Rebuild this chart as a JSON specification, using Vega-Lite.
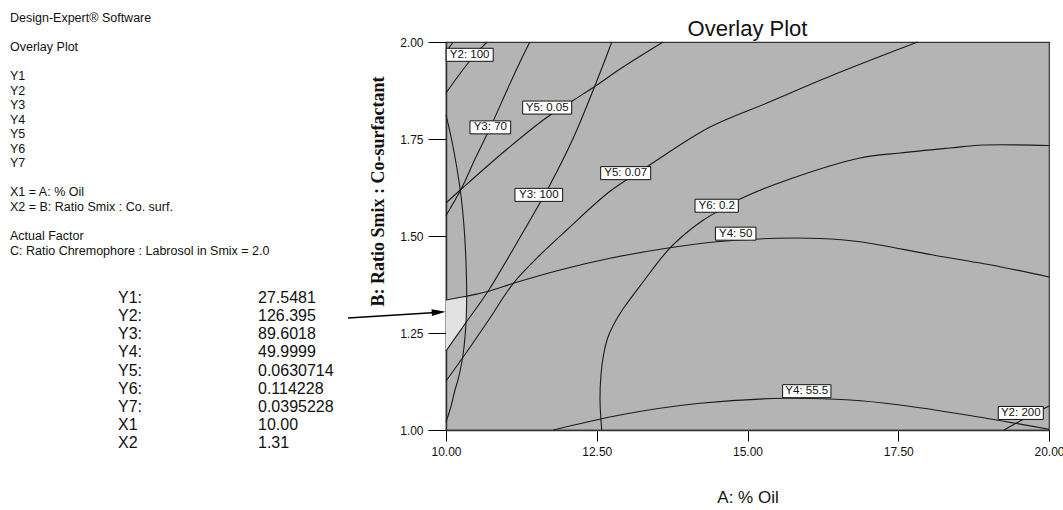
{
  "$schema": "https://vega.github.io/schema/vega-lite/v6.json",
  "width": 603,
  "height": 388,
  "autosize": {"type": "none"},
  "padding": {"left": 446, "top": 42, "right": 14, "bottom": 80},
  "background": "white",
  "title": {"text": "Overlay Plot", "font": "Liberation Sans", "fontSize": 22, "fontWeight": "normal", "color": "#111", "baseline": "alphabetic", "offset": 0, "dy": 46, "anchor": "middle", "frame": "group"},
  "config": {
    "view": {"fill": "#b4b4b4", "stroke": "#333", "strokeWidth": 1.2}
  },
  "datasets": {
    "contours": [
      {"curve": "Y2: 100", "i": 0, "oil": 10, "ratio": 1.8686},
      {"curve": "Y2: 100", "i": 1, "oil": 10.2156, "ratio": 1.9149},
      {"curve": "Y2: 100", "i": 2, "oil": 10.4478, "ratio": 1.9613},
      {"curve": "Y2: 100", "i": 3, "oil": 10.68, "ratio": 2.0},
      {"curve": "Y7", "i": 0, "oil": 10, "ratio": 1.975},
      {"curve": "Y7", "i": 1, "oil": 10.12, "ratio": 2.0},
      {"curve": "Y1", "i": 0, "oil": 10, "ratio": 1.8126},
      {"curve": "Y1", "i": 1, "oil": 10.121, "ratio": 1.7268},
      {"curve": "Y1", "i": 2, "oil": 10.232, "ratio": 1.6237},
      {"curve": "Y1", "i": 3, "oil": 10.287, "ratio": 1.5464},
      {"curve": "Y1", "i": 4, "oil": 10.323, "ratio": 1.4639},
      {"curve": "Y1", "i": 5, "oil": 10.34, "ratio": 1.3866},
      {"curve": "Y1", "i": 6, "oil": 10.343, "ratio": 1.3428},
      {"curve": "Y1", "i": 7, "oil": 10.332, "ratio": 1.2758},
      {"curve": "Y1", "i": 8, "oil": 10.299, "ratio": 1.2139},
      {"curve": "Y1", "i": 9, "oil": 10.26, "ratio": 1.1727},
      {"curve": "Y1", "i": 10, "oil": 10.199, "ratio": 1.1289},
      {"curve": "Y1", "i": 11, "oil": 10.149, "ratio": 1.1031},
      {"curve": "Y1", "i": 12, "oil": 10.075, "ratio": 1.0567},
      {"curve": "Y1", "i": 13, "oil": 10, "ratio": 1.0206},
      {"curve": "Y3: 70", "i": 0, "oil": 10, "ratio": 1.5528},
      {"curve": "Y3: 70", "i": 1, "oil": 10.26, "ratio": 1.6237},
      {"curve": "Y3: 70", "i": 2, "oil": 10.481, "ratio": 1.6985},
      {"curve": "Y3: 70", "i": 3, "oil": 10.73, "ratio": 1.7784},
      {"curve": "Y3: 70", "i": 4, "oil": 11.028, "ratio": 1.8814},
      {"curve": "Y3: 70", "i": 5, "oil": 11.227, "ratio": 1.9485},
      {"curve": "Y3: 70", "i": 6, "oil": 11.39, "ratio": 2.0},
      {"curve": "Y5: 0.05", "i": 0, "oil": 10, "ratio": 1.5851},
      {"curve": "Y5: 0.05", "i": 1, "oil": 10.265, "ratio": 1.6224},
      {"curve": "Y5: 0.05", "i": 2, "oil": 10.995, "ratio": 1.7216},
      {"curve": "Y5: 0.05", "i": 3, "oil": 11.658, "ratio": 1.8041},
      {"curve": "Y5: 0.05", "i": 4, "oil": 12.106, "ratio": 1.8492},
      {"curve": "Y5: 0.05", "i": 5, "oil": 12.504, "ratio": 1.8892},
      {"curve": "Y5: 0.05", "i": 6, "oil": 12.886, "ratio": 1.9304},
      {"curve": "Y5: 0.05", "i": 7, "oil": 13.6, "ratio": 2.0},
      {"curve": "Y3: 100", "i": 0, "oil": 10, "ratio": 1.2036},
      {"curve": "Y3: 100", "i": 1, "oil": 10.343, "ratio": 1.2796},
      {"curve": "Y3: 100", "i": 2, "oil": 10.675, "ratio": 1.3523},
      {"curve": "Y3: 100", "i": 3, "oil": 11.26, "ratio": 1.5052},
      {"curve": "Y3: 100", "i": 4, "oil": 11.725, "ratio": 1.6322},
      {"curve": "Y3: 100", "i": 5, "oil": 12.111, "ratio": 1.7526},
      {"curve": "Y3: 100", "i": 6, "oil": 12.499, "ratio": 1.8987},
      {"curve": "Y3: 100", "i": 7, "oil": 12.75, "ratio": 2.0},
      {"curve": "Y5: 0.07", "i": 0, "oil": 10, "ratio": 1.1263},
      {"curve": "Y5: 0.07", "i": 1, "oil": 10.332, "ratio": 1.1985},
      {"curve": "Y5: 0.07", "i": 2, "oil": 10.73, "ratio": 1.2887},
      {"curve": "Y5: 0.07", "i": 3, "oil": 11.116, "ratio": 1.3781},
      {"curve": "Y5: 0.07", "i": 4, "oil": 11.559, "ratio": 1.451},
      {"curve": "Y5: 0.07", "i": 5, "oil": 12.002, "ratio": 1.5155},
      {"curve": "Y5: 0.07", "i": 6, "oil": 12.72, "ratio": 1.6152},
      {"curve": "Y5: 0.07", "i": 7, "oil": 13.383, "ratio": 1.6838},
      {"curve": "Y5: 0.07", "i": 8, "oil": 14.378, "ratio": 1.7809},
      {"curve": "Y5: 0.07", "i": 9, "oil": 15.323, "ratio": 1.8428},
      {"curve": "Y5: 0.07", "i": 10, "oil": 16.418, "ratio": 1.9149},
      {"curve": "Y5: 0.07", "i": 11, "oil": 17.82, "ratio": 2.0},
      {"curve": "Y6: 0.2", "i": 0, "oil": 12.582, "ratio": 1.0},
      {"curve": "Y6: 0.2", "i": 1, "oil": 12.554, "ratio": 1.0773},
      {"curve": "Y6: 0.2", "i": 2, "oil": 12.57, "ratio": 1.1418},
      {"curve": "Y6: 0.2", "i": 3, "oil": 12.612, "ratio": 1.1933},
      {"curve": "Y6: 0.2", "i": 4, "oil": 12.687, "ratio": 1.2397},
      {"curve": "Y6: 0.2", "i": 5, "oil": 12.803, "ratio": 1.2784},
      {"curve": "Y6: 0.2", "i": 6, "oil": 12.935, "ratio": 1.3119},
      {"curve": "Y6: 0.2", "i": 7, "oil": 13.267, "ratio": 1.3814},
      {"curve": "Y6: 0.2", "i": 8, "oil": 13.682, "ratio": 1.4639},
      {"curve": "Y6: 0.2", "i": 9, "oil": 13.964, "ratio": 1.5052},
      {"curve": "Y6: 0.2", "i": 10, "oil": 14.245, "ratio": 1.5387},
      {"curve": "Y6: 0.2", "i": 11, "oil": 14.544, "ratio": 1.567},
      {"curve": "Y6: 0.2", "i": 12, "oil": 14.876, "ratio": 1.5954},
      {"curve": "Y6: 0.2", "i": 13, "oil": 15.705, "ratio": 1.6469},
      {"curve": "Y6: 0.2", "i": 14, "oil": 16.866, "ratio": 1.701},
      {"curve": "Y6: 0.2", "i": 15, "oil": 17.529, "ratio": 1.7139},
      {"curve": "Y6: 0.2", "i": 16, "oil": 18.358, "ratio": 1.7268},
      {"curve": "Y6: 0.2", "i": 17, "oil": 18.905, "ratio": 1.7345},
      {"curve": "Y6: 0.2", "i": 18, "oil": 20.0, "ratio": 1.7332},
      {"curve": "Y4: 50", "i": 0, "oil": 10, "ratio": 1.3351},
      {"curve": "Y4: 50", "i": 1, "oil": 10.675, "ratio": 1.3564},
      {"curve": "Y4: 50", "i": 2, "oil": 11.116, "ratio": 1.3781},
      {"curve": "Y4: 50", "i": 3, "oil": 11.891, "ratio": 1.4124},
      {"curve": "Y4: 50", "i": 4, "oil": 12.72, "ratio": 1.4425},
      {"curve": "Y4: 50", "i": 5, "oil": 13.682, "ratio": 1.4691},
      {"curve": "Y4: 50", "i": 6, "oil": 14.489, "ratio": 1.4853},
      {"curve": "Y4: 50", "i": 7, "oil": 15.484, "ratio": 1.4941},
      {"curve": "Y4: 50", "i": 8, "oil": 16.2, "ratio": 1.4936},
      {"curve": "Y4: 50", "i": 9, "oil": 16.866, "ratio": 1.4853},
      {"curve": "Y4: 50", "i": 10, "oil": 18.076, "ratio": 1.451},
      {"curve": "Y4: 50", "i": 11, "oil": 19.187, "ratio": 1.4209},
      {"curve": "Y4: 50", "i": 12, "oil": 20.0, "ratio": 1.3943},
      {"curve": "Y4: 55.5", "i": 0, "oil": 11.779, "ratio": 1.0},
      {"curve": "Y4: 55.5", "i": 1, "oil": 12.886, "ratio": 1.0387},
      {"curve": "Y4: 55.5", "i": 2, "oil": 14.212, "ratio": 1.0688},
      {"curve": "Y4: 55.5", "i": 3, "oil": 15.594, "ratio": 1.0817},
      {"curve": "Y4: 55.5", "i": 4, "oil": 16.7, "ratio": 1.0773},
      {"curve": "Y4: 55.5", "i": 5, "oil": 17.529, "ratio": 1.0644},
      {"curve": "Y4: 55.5", "i": 6, "oil": 18.635, "ratio": 1.0387},
      {"curve": "Y4: 55.5", "i": 7, "oil": 20.0, "ratio": 1.0018},
      {"curve": "Y2: 200", "i": 0, "oil": 19.254, "ratio": 1.0},
      {"curve": "Y2: 200", "i": 1, "oil": 19.552, "ratio": 1.0258},
      {"curve": "Y2: 200", "i": 2, "oil": 20.0, "ratio": 1.062}
    ],
    "labels": [
      {"label": "Y2: 100", "oil": 10.393, "ratio": 1.967},
      {"label": "Y5: 0.05", "oil": 11.678, "ratio": 1.831},
      {"label": "Y3: 70", "oil": 10.735, "ratio": 1.78},
      {"label": "Y3: 100", "oil": 11.539, "ratio": 1.606},
      {"label": "Y5: 0.07", "oil": 12.98, "ratio": 1.662},
      {"label": "Y6: 0.2", "oil": 14.489, "ratio": 1.578},
      {"label": "Y4: 50", "oil": 14.804, "ratio": 1.506},
      {"label": "Y4: 55.5", "oil": 15.983, "ratio": 1.1},
      {"label": "Y2: 200", "oil": 19.532, "ratio": 1.044}
    ],
    "info": [
      {"text": "Design-Expert® Software", "line": 1, "col": "info"},
      {"text": "Overlay Plot", "line": 3, "col": "info"},
      {"text": "Y1", "line": 5, "col": "info"},
      {"text": "Y2", "line": 6, "col": "info"},
      {"text": "Y3", "line": 7, "col": "info"},
      {"text": "Y4", "line": 8, "col": "info"},
      {"text": "Y5", "line": 9, "col": "info"},
      {"text": "Y6", "line": 10, "col": "info"},
      {"text": "Y7", "line": 11, "col": "info"},
      {"text": "X1 = A: % Oil", "line": 13, "col": "info"},
      {"text": "X2 = B: Ratio Smix : Co. surf.", "line": 14, "col": "info"},
      {"text": "Actual Factor", "line": 16, "col": "info"},
      {"text": "C: Ratio Chremophore : Labrosol in Smix = 2.0", "line": 17, "col": "info"}
    ],
    "table": [
      {"item": "Y1:", "col": "name", "row": 1}, {"item": "27.5481", "col": "value", "row": 1},
      {"item": "Y2:", "col": "name", "row": 2}, {"item": "126.395", "col": "value", "row": 2},
      {"item": "Y3:", "col": "name", "row": 3}, {"item": "89.6018", "col": "value", "row": 3},
      {"item": "Y4:", "col": "name", "row": 4}, {"item": "49.9999", "col": "value", "row": 4},
      {"item": "Y5:", "col": "name", "row": 5}, {"item": "0.0630714", "col": "value", "row": 5},
      {"item": "Y6:", "col": "name", "row": 6}, {"item": "0.114228", "col": "value", "row": 6},
      {"item": "Y7:", "col": "name", "row": 7}, {"item": "0.0395228", "col": "value", "row": 7},
      {"item": "X1", "col": "name", "row": 8}, {"item": "10.00", "col": "value", "row": 8},
      {"item": "X2", "col": "name", "row": 9}, {"item": "1.31", "col": "value", "row": 9}
    ]
  },
  "layer": [
    {
      "encoding": {
        "x": {"field": "oil", "type": "quantitative", "scale": {"domain": [10, 20], "nice": false, "zero": false},
          "axis": {"title": "A: % Oil", "values": [10, 12.5, 15, 17.5, 20], "format": ".2f", "grid": false, "tickSize": 11, "tickColor": "#000", "domainColor": "#333", "domainWidth": 1.5, "labelFont": "Liberation Sans", "labelFontSize": 12, "labelColor": "#111", "labelPadding": 5, "labelFlush": false, "titleFont": "Liberation Sans", "titleFontSize": 17, "titleFontWeight": "normal", "titleColor": "#111", "titleY": 67, "titleBaseline": "middle"}},
        "y": {"field": "ratio", "type": "quantitative", "scale": {"domain": [1, 2], "nice": false, "zero": false},
          "axis": {"title": "B: Ratio Smix : Co-surfactant", "values": [1, 1.25, 1.5, 1.75, 2], "format": ".2f", "grid": false, "tickSize": 18, "tickColor": "#000", "domainColor": "#333", "domainWidth": 1.5, "labelFont": "Liberation Sans", "labelFontSize": 12, "labelColor": "#111", "labelPadding": 5, "labelFlush": false, "titleFont": "Liberation Serif", "titleFontSize": 18, "titleFontWeight": "bold", "titleColor": "#111", "titleX": -68, "titleY": 149, "titleBaseline": "middle", "titleAngle": -90}}
      },
      "layer": [
        {
          "data": {"values": [{"oil": 10, "ratio": 1.3351, "ratio_low": 1.2036}, {"oil": 10.34, "ratio": 1.3428, "ratio_low": 1.2796}]},
          "mark": {"type": "area", "color": "#e2e2e2", "opacity": 1},
          "encoding": {"y2": {"field": "ratio_low"}}
        },
        {
          "data": {"name": "contours"},
          "mark": {"type": "line", "color": "#1a1a1a", "strokeWidth": 1.1, "interpolate": "catmull-rom"},
          "encoding": {"detail": {"field": "curve"}, "order": {"field": "i"}}
        },
        {
          "data": {"name": "labels"},
          "mark": {"type": "point", "filled": true, "fill": "white", "stroke": "#111", "strokeWidth": 1, "size": 2500, "opacity": 1},
          "encoding": {"shape": {"field": "label", "type": "nominal", "legend": null,
            "scale": {"domain": ["Y2: 100", "Y5: 0.05", "Y3: 70", "Y3: 100", "Y5: 0.07", "Y6: 0.2", "Y4: 50", "Y4: 55.5", "Y2: 200"],
              "range": ["M-0.94,-0.26L0.94,-0.26L0.94,0.26L-0.94,0.26Z", "M-0.98,-0.26L0.98,-0.26L0.98,0.26L-0.98,0.26Z", "M-0.814,-0.26L0.814,-0.26L0.814,0.26L-0.814,0.26Z", "M-0.954,-0.26L0.954,-0.26L0.954,0.26L-0.954,0.26Z", "M-1,-0.26L1,-0.26L1,0.26L-1,0.26Z", "M-0.866,-0.26L0.866,-0.26L0.866,0.26L-0.866,0.26Z", "M-0.81,-0.26L0.81,-0.26L0.81,0.26L-0.81,0.26Z", "M-0.966,-0.26L0.966,-0.26L0.966,0.26L-0.966,0.26Z", "M-0.9,-0.26L0.9,-0.26L0.9,0.26L-0.9,0.26Z"]}}}
        },
        {
          "data": {"name": "labels"},
          "mark": {"type": "text", "font": "Liberation Sans", "fontSize": 11.5, "color": "#111", "align": "center", "baseline": "middle"},
          "encoding": {"text": {"field": "label"}}
        },
        {
          "data": {"values": [{"oil": 8.375, "ratio": 1.2887, "i": 0}, {"oil": 9.9, "ratio": 1.3035, "i": 1}]},
          "mark": {"type": "line", "color": "#000", "strokeWidth": 1.5},
          "encoding": {"order": {"field": "i"}}
        },
        {
          "data": {"values": [{"oil": 9.995, "ratio": 1.3049}]},
          "mark": {"type": "point", "shape": "M0,0L-2,-0.47L-2,0.47Z", "size": 196, "filled": true, "color": "#000", "opacity": 1, "angle": -3.7},
          "encoding": {}
        }
      ]
    },
    {
      "data": {"name": "info"},
      "mark": {"type": "text", "font": "Liberation Sans", "fontSize": 12.5, "color": "#111", "align": "left", "baseline": "middle"},
      "encoding": {
        "x": {"field": "col", "type": "nominal", "scale": {"type": "point", "domain": ["info"], "range": [-436, -436], "padding": 0}, "axis": null},
        "y": {"field": "line", "type": "quantitative", "scale": {"domain": [1, 17], "range": [-24.3, 208.7], "nice": false, "zero": false}, "axis": null},
        "text": {"field": "text"}
      }
    },
    {
      "data": {"name": "table"},
      "mark": {"type": "text", "font": "Liberation Sans", "fontSize": 16, "color": "#111", "align": "left", "baseline": "middle"},
      "encoding": {
        "x": {"field": "col", "type": "nominal", "scale": {"type": "point", "domain": ["name", "value"], "range": [-328, -188], "padding": 0}, "axis": null},
        "y": {"field": "row", "type": "quantitative", "scale": {"domain": [1, 9], "range": [255.7, 401.3], "nice": false, "zero": false}, "axis": null},
        "text": {"field": "item"}
      }
    }
  ],
  "resolve": {"scale": {"x": "independent", "y": "independent"}}
}
